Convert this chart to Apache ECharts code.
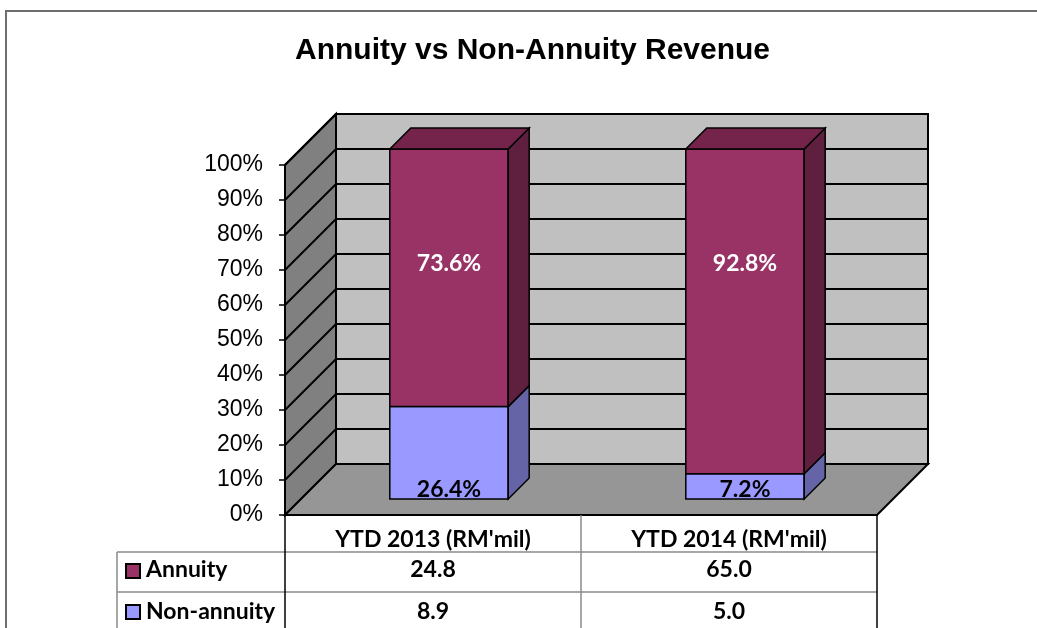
<!DOCTYPE html>
<html>
<head>
<meta charset="utf-8">
<script src="https://cdn.jsdelivr.net/npm/echarts@6/dist/echarts.min.js"></script>
<style>
  html, body { margin: 0; padding: 0; background: #fff; }
  #main { width: 1037px; height: 628px; }
</style>
</head>
<body>
<div id="main"></div>
<script>
'use strict';

// chart data
const categories = ['YTD 2013 (RM\'mil)', 'YTD 2014 (RM\'mil)'];
const seriesNames = ['Annuity', 'Non-annuity'];
const annuityPct = [73.6, 92.8];
const nonAnnuityPct = [26.4, 7.2];
const annuityRM = [24.8, 65.0];
const nonAnnuityRM = [8.9, 5.0];

// colours
const annuityFront = '#993366', annuitySide = '#5f1f3f', annuityTop = '#74244b';
const nonFront = '#9999ff', nonSide = '#6464a6';

const WALL_DEPTH = 51;   // px depth of the 3d box
const BAR_OFFSET = 16;   // bar front distance from front plane
const BAR_DEPTH = 21;

var myChart = echarts.init(document.getElementById('main'));

// back wall, side wall and floor
function renderWalls(params, api) {
	const cs = params.coordSys;
	const x0 = cs.x, x1 = cs.x + cs.width;
	const yTop = api.coord([0, 100])[1];
	const yBot = api.coord([0, 0])[1];
	const D = WALL_DEPTH;
	const edge = { stroke: '#000', lineWidth: 2 };
	const children = [
		{ type: 'polygon', shape: { points: [[x0 + D, yTop - D], [x1 + D, yTop - D], [x1 + D, yBot - D], [x0 + D, yBot - D]] },
			style: Object.assign({ fill: '#c0c0c0' }, edge) },
		{ type: 'polygon', shape: { points: [[x0, yBot], [x0, yTop], [x0 + D, yTop - D], [x0 + D, yBot - D]] },
			style: Object.assign({ fill: '#808080' }, edge) },
		{ type: 'polygon', shape: { points: [[x0, yBot], [x0 + D, yBot - D], [x1 + D, yBot - D], [x1, yBot]] },
			style: Object.assign({ fill: '#969696' }, edge) }
	];
	for (let v = 10; v <= 100; v += 10) {
		const y = api.coord([0, v])[1];
		children.push({ type: 'polyline', shape: { points: [[x0, y], [x0 + D, y - D], [x1 + D, y - D]] },
			style: { stroke: '#000', lineWidth: 2, fill: null } });
	}
	return { type: 'group', children: children };
}

// stacked 3d bars
function renderBars(params, api) {
	const i = api.value(0);
	const non = api.value(1);
	const ann = api.value(2);
	const base = api.coord([i, 0]);
	const bw = api.size([1, 0])[0];
	const w = bw * 0.4;
	const o = BAR_OFFSET, d = BAR_DEPTH;
	const xl = base[0] - w / 2 + o, xr = xl + w;
	const yb = base[1] - o;
	const yNon = api.coord([i, non])[1] - o;
	const yTop = api.coord([i, non + ann])[1] - o;
	const edge = { stroke: '#000', lineWidth: 1.5 };
	return {
		type: 'group',
		children: [
			{ type: 'polygon', shape: { points: [[xl, yb], [xr, yb], [xr, yNon], [xl, yNon]] }, style: Object.assign({ fill: nonFront }, edge) },
			{ type: 'polygon', shape: { points: [[xr, yb], [xr + d, yb - d], [xr + d, yNon - d], [xr, yNon]] }, style: Object.assign({ fill: nonSide }, edge) },
			{ type: 'polygon', shape: { points: [[xl, yNon], [xr, yNon], [xr, yTop], [xl, yTop]] }, style: Object.assign({ fill: annuityFront }, edge) },
			{ type: 'polygon', shape: { points: [[xr, yNon], [xr + d, yNon - d], [xr + d, yTop - d], [xr, yTop]] }, style: Object.assign({ fill: annuitySide }, edge) },
			{ type: 'polygon', shape: { points: [[xl, yTop], [xl + d, yTop - d], [xr + d, yTop - d], [xr, yTop]] }, style: Object.assign({ fill: annuityTop }, edge) },
			{ type: 'text', style: { text: ann.toFixed(1) + '%', x: (xl + xr) / 2, y: yTop + 0.327 * (yb - yTop),
				fill: '#fff', font: 'bold 23px Lato', align: 'center', verticalAlign: 'middle' } },
			{ type: 'text', style: { text: non.toFixed(1) + '%', x: (xl + xr) / 2, y: yb - 9,
				fill: '#000', font: 'bold 23px Lato', align: 'center', verticalAlign: 'middle' } }
		]
	};
}

// data table under the chart
function renderTable(params, api) {
	const i = api.value(0);
	const cx = api.coord([i, 0])[0];
	const bw = api.size([1, 0])[0];
	const cs = params.coordSys;
	const y0 = cs.y + cs.height;
	const r1 = y0 + 37, r2 = y0 + 77, yEnd = 640;
	const font = 'bold 23px Lato';
	const left = cx - bw / 2, right = cx + bw / 2;
	const last = i === categories.length - 1;
	const children = [
		{ type: 'line', shape: { x1: left, y1: r1, x2: right, y2: r1 }, style: { stroke: '#8a8a8a', lineWidth: 1.5 } },
		{ type: 'line', shape: { x1: left, y1: r2, x2: right, y2: r2 }, style: { stroke: '#8a8a8a', lineWidth: 1.5 } },
		{ type: 'line', shape: { x1: right, y1: y0, x2: right, y2: yEnd }, style: { stroke: last ? '#000' : '#8a8a8a', lineWidth: 1.5 } },
		{ type: 'text', style: { text: api.value(1).toFixed(1), x: cx, y: r1 + 18, font: font, fill: '#000', align: 'center', verticalAlign: 'middle' } },
		{ type: 'text', style: { text: api.value(2).toFixed(1), x: cx, y: r2 + 20, font: font, fill: '#000', align: 'center', verticalAlign: 'middle' } }
	];
	if (i === 0) {
		const lx = 117;
		children.push(
			{ type: 'line', shape: { x1: lx, y1: r1, x2: left, y2: r1 }, style: { stroke: '#8a8a8a', lineWidth: 1.5 } },
			{ type: 'line', shape: { x1: lx, y1: r2, x2: left, y2: r2 }, style: { stroke: '#8a8a8a', lineWidth: 1.5 } },
			{ type: 'line', shape: { x1: lx, y1: r1, x2: lx, y2: yEnd }, style: { stroke: '#8a8a8a', lineWidth: 1.5 } },
			{ type: 'line', shape: { x1: left, y1: y0, x2: left, y2: yEnd }, style: { stroke: '#000', lineWidth: 1.5 } },
			{ type: 'rect', shape: { x: lx + 9, y: r1 + 12, width: 14, height: 14 }, style: { fill: annuityFront, stroke: '#000', lineWidth: 2 } },
			{ type: 'rect', shape: { x: lx + 9, y: r2 + 13, width: 14, height: 14 }, style: { fill: nonFront, stroke: '#000', lineWidth: 2 } },
			{ type: 'text', style: { text: seriesNames[0], x: lx + 29, y: r1 + 18, font: font, fill: '#000', align: 'left', verticalAlign: 'middle' } },
			{ type: 'text', style: { text: seriesNames[1], x: lx + 29, y: r2 + 20, font: font, fill: '#000', align: 'left', verticalAlign: 'middle' } }
		);
	}
	return { type: 'group', children: children };
}

var option = {
	animation: false,
	title: {
		text: 'Annuity vs Non-Annuity Revenue',
		left: 290,
		top: 31,
		textStyle: { fontFamily: 'Liberation Sans', fontWeight: 'bold', fontSize: 30, color: '#000' }
	},
	graphic: [{
		type: 'polyline',
		shape: { points: [[6, 640], [6, 11], [1040, 11]] },
		style: { stroke: '#6e6e6e', lineWidth: 2, fill: null }
	}],
	grid: { left: 285, top: 165, width: 592, height: 350 },
	xAxis: {
		type: 'category',
		data: categories,
		axisLine: { show: false },
		axisTick: { show: false },
		axisLabel: { margin: 13, color: '#000', fontFamily: 'Lato', fontWeight: 'bold', fontSize: 23, lineHeight: 23 }
	},
	yAxis: {
		type: 'value',
		min: 0,
		max: 100,
		interval: 10,
		splitLine: { show: false },
		axisLine: { show: true, lineStyle: { color: '#000', width: 2 } },
		axisTick: { show: true, length: 6, lineStyle: { color: '#000', width: 1.5 } },
		axisLabel: { formatter: '{value}%', margin: 22, color: '#000', fontFamily: 'Liberation Sans', fontSize: 23 }
	},
	series: [
		{ name: 'walls', type: 'custom', renderItem: renderWalls, data: [[0, 0]], z: 1, silent: true },
		{ name: 'bars', type: 'custom', renderItem: renderBars, z: 3,
			data: categories.map(function(c, i) { return [i, nonAnnuityPct[i], annuityPct[i]]; }) },
		{ name: 'table', type: 'custom', renderItem: renderTable, z: 3,
			data: categories.map(function(c, i) { return [i, annuityRM[i], nonAnnuityRM[i]]; }) }
	]
};

myChart.setOption(option);
</script>
</body>
</html>
